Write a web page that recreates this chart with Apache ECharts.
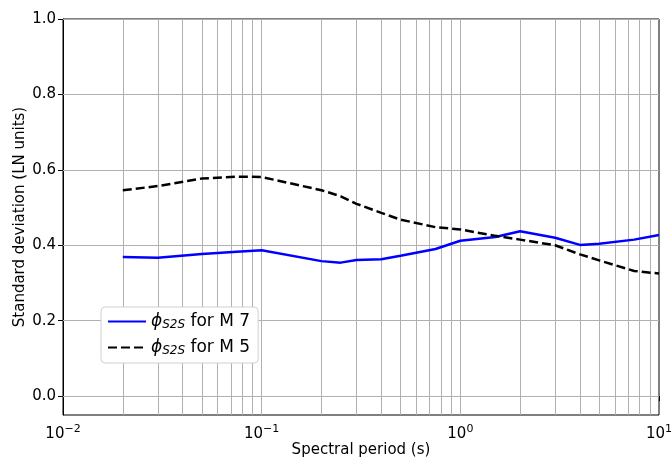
<!DOCTYPE html>
<html>
<head>
<meta charset="utf-8">
<script src="https://cdn.jsdelivr.net/npm/echarts@6/dist/echarts.min.js"></script>
<style>
html, body { margin: 0; padding: 0; background: #fff; }
#main { width: 672px; height: 459px; }
</style>
</head>
<body>
<div id="main"></div>
<script>
// periods (s) and standard deviations
var periods = [0.02, 0.03, 0.05, 0.075, 0.1, 0.2, 0.25, 0.3, 0.4, 0.5, 0.75, 1, 1.5, 2, 3, 4, 5, 7.5, 10];
var phiM7 = [0.369, 0.367, 0.377, 0.383, 0.387, 0.358, 0.354, 0.361, 0.363, 0.372, 0.390, 0.412, 0.422, 0.437, 0.420, 0.401, 0.404, 0.415, 0.427];
var phiM5 = [0.546, 0.557, 0.577, 0.582, 0.581, 0.546, 0.530, 0.510, 0.486, 0.468, 0.448, 0.442, 0.425, 0.415, 0.400, 0.376, 0.360, 0.332, 0.325];
var yTicks = [0, 0.2, 0.4, 0.6, 0.8, 1.0];
var minorX = [0.02, 0.03, 0.04, 0.05, 0.06, 0.07, 0.08, 0.09, 0.1,
              0.2, 0.3, 0.4, 0.5, 0.6, 0.7, 0.8, 0.9, 1,
              2, 3, 4, 5, 6, 7, 8, 9];

var myChart = echarts.init(document.getElementById('main'));

function pairs(ys) {
    return periods.map(function (p, i) { return [p, ys[i]]; });
}

var gridStyle = { color: '#b0b0b0', width: 1, type: 'solid' };

var option = {
    animation: false,
    textStyle: { fontFamily: 'DejaVu Sans' },
    grid: {
        left: 63, right: 13, top: 19, bottom: 44,
        containLabel: false,
        outerBoundsMode: 'none',
        show: true, borderColor: '#000', borderWidth: 1
    },
    legend: {
        left: 101, top: 307,
        z: 20,
        orient: 'vertical',
        backgroundColor: '#fff',
        borderColor: '#d0d0d0', borderWidth: 1, borderRadius: 4,
        padding: [6, 8, 6, 6],
        itemGap: 8,
        itemWidth: 38, itemHeight: 18,
        itemStyle: { opacity: 0 },
        data: ['M 7', 'M 5'],
        formatter: function (name) {
            return '{phi|ϕ}{sub|S2S}{t| for ' + name + '}';
        },
        textStyle: {
            color: '#000',
            rich: {
                phi: { fontSize: 17, fontStyle: 'italic', fontFamily: 'DejaVu Sans' },
                sub: { fontSize: 12, fontStyle: 'italic', fontFamily: 'DejaVu Sans', padding: [7, 0, 0, 0] },
                t: { fontSize: 17, fontFamily: 'DejaVu Sans' }
            }
        }
    },
    xAxis: {
        type: 'log',
        logBase: 10,
        min: 0.01, max: 10,
        name: 'Spectral period (s)',
        nameLocation: 'middle',
        nameGap: 28,
        nameMoveOverlap: false,
        nameTextStyle: { fontSize: 15, color: '#000' },
        axisLine: { lineStyle: { color: '#000' } },
        axisTick: { show: true, length: 5, lineStyle: { color: '#000' } },
        splitLine: { show: false },
        axisLabel: {
            color: '#000', fontSize: 15, margin: 9,
            formatter: function (v) {
                var e = Math.round(Math.log10(v));
                return '10{sup|' + (e < 0 ? '\u2212' + (-e) : e) + '}';
            },
            rich: { sup: { fontSize: 11, padding: [0, 0, 9, 0], color: '#000' } }
        }
    },
    yAxis: {
        type: 'value',
        min: -0.05, max: 1.0,
        name: 'Standard deviation (LN units)',
        nameLocation: 'middle',
        nameGap: 35,
        nameMoveOverlap: false,
        nameTextStyle: { fontSize: 15, color: '#000' },
        axisLine: { show: true, lineStyle: { color: '#000' } },
        axisTick: { show: true, length: 5, customValues: yTicks, lineStyle: { color: '#000' } },
        splitLine: { show: false },
        axisLabel: {
            color: '#000', fontSize: 15, margin: 7,
            customValues: yTicks,
            formatter: function (v) { return v.toFixed(1); }
        }
    },
    series: [
        {
            name: 'grid',
            type: 'line',
            data: [],
            silent: true,
            z: 1,
            markLine: {
                silent: true,
                z: 1,
                symbol: 'none',
                label: { show: false },
                lineStyle: gridStyle,
                data: minorX.map(function (x) { return { xAxis: x }; })
                    .concat(yTicks.map(function (y) { return { yAxis: y }; }))
            }
        },
        {
            name: 'M 7',
            type: 'line',
            data: pairs(phiM7),
            showSymbol: false,
            symbol: 'none',
            z: 3,
            lineStyle: { color: '#0000ff', width: 2.5 },
            itemStyle: { color: '#0000ff' }
        },
        {
            name: 'M 5',
            type: 'line',
            data: pairs(phiM5),
            showSymbol: false,
            symbol: 'none',
            z: 4,
            lineStyle: { color: '#000', width: 2.5, type: [9, 4] },
            itemStyle: { color: '#000' }
        }
    ]
};

myChart.setOption(option);
</script>
</body>
</html>
